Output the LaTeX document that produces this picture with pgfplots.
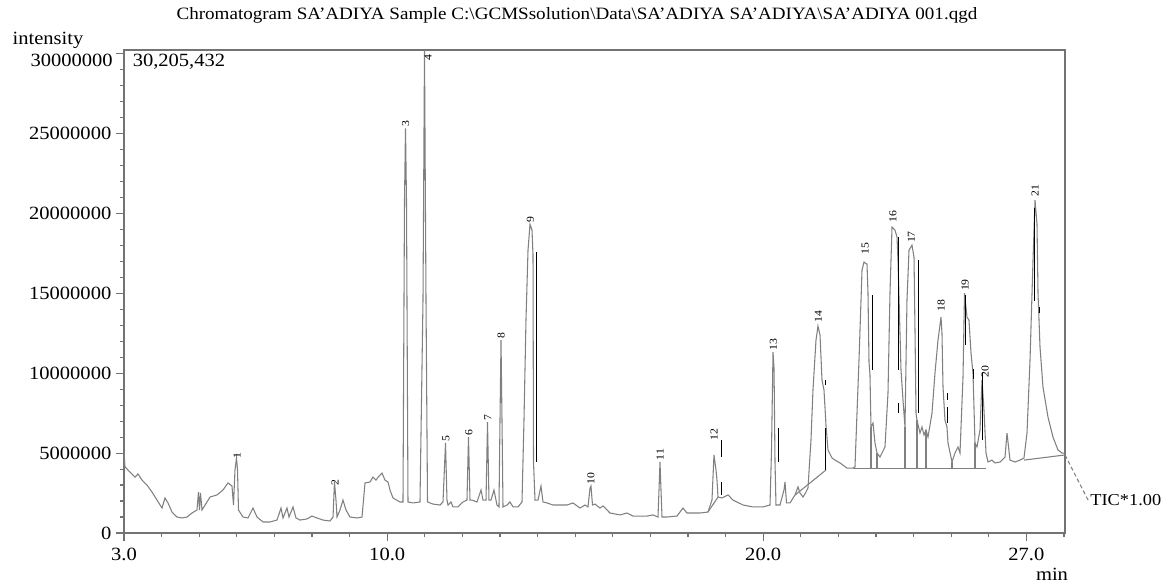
\documentclass[border=0pt]{standalone}
\usepackage{pgfplots}
\pgfplotsset{compat=1.18}
\usepackage{pgfplotstable}
\usepackage{fontspec}
\setmainfont[FakeStretch=1.1]{Liberation Serif}

\definecolor{trace}{gray}{0.50}
\definecolor{frame}{gray}{0.45}

% TIC trace: retention time (min), intensity (millions)
\pgfplotstableread{
t I
3.000 5.06
3.027 4.13
3.160 3.81
3.293 3.50
3.372 3.69
3.479 3.31
3.612 3.00
3.745 2.56
3.878 2.06
4.011 1.56
4.090 2.19
4.170 1.88
4.277 1.31
4.410 1.00
4.543 0.94
4.676 1.00
4.809 1.25
4.941 1.44
4.981 2.56
5.008 1.44
5.035 2.50
5.074 1.44
5.207 1.94
5.287 2.25
5.473 2.38
5.633 2.69
5.766 3.13
5.872 2.94
5.912 1.75
5.952 3.94
5.992 4.69
6.019 3.94
6.045 1.44
6.165 1.00
6.298 0.94
6.431 1.56
6.537 1.00
6.697 0.69
6.883 0.69
7.069 0.81
7.176 1.56
7.229 0.94
7.335 1.56
7.388 1.00
7.495 1.63
7.574 0.94
7.681 0.81
7.867 0.88
8.000 1.06
8.133 0.94
8.293 0.81
8.479 0.75
8.559 1.00
8.598 3.19
8.638 2.06
8.665 1.00
8.745 1.44
8.824 2.06
8.904 1.44
9.011 1.00
9.197 0.94
9.330 1.00
9.410 3.13
9.543 3.19
9.622 3.50
9.702 3.31
9.782 3.56
9.862 3.75
9.941 3.31
10.021 3.19
10.074 2.69
10.154 2.19
10.340 1.94
10.420 1.94
10.460 20.81
10.487 25.31
10.513 20.81
10.553 1.94
10.686 1.88
10.872 1.94
10.952 14.56
10.992 30.205
11.032 14.56
11.072 1.94
11.218 1.81
11.404 1.75
11.484 1.94
11.551 5.63
11.590 2.06
11.617 1.75
11.697 1.94
11.750 1.63
11.883 1.63
12.016 1.94
12.122 2.06
12.162 6.00
12.202 2.06
12.255 2.06
12.388 1.94
12.495 2.69
12.548 2.06
12.628 2.06
12.668 6.94
12.707 2.06
12.761 2.06
12.840 2.69
12.920 1.75
12.973 1.63
13.000 7.06
13.027 12.06
13.053 7.06
13.080 1.63
13.186 1.75
13.266 1.94
13.346 1.63
13.479 1.63
13.585 1.94
13.638 7.06
13.691 13.31
13.745 17.69
13.798 19.31
13.851 18.94
13.878 17.38
13.891 4.44
13.931 2.06
14.011 2.06
14.090 2.94
14.144 1.94
14.250 1.88
14.410 1.75
14.596 1.75
14.782 1.75
14.941 1.88
15.128 1.56
15.261 1.75
15.340 1.63
15.394 2.81
15.420 2.94
15.460 1.75
15.527 1.81
15.660 1.56
15.739 1.69
15.926 1.25
16.191 1.13
16.378 1.25
16.537 1.06
16.723 1.06
16.910 1.06
17.069 1.13
17.202 1.00
17.229 2.69
17.255 4.44
17.282 2.69
17.309 1.00
17.441 1.00
17.707 1.06
17.867 1.56
17.973 1.25
18.319 1.25
18.532 1.31
18.638 2.06
18.691 4.88
18.745 3.94
18.771 3.31
18.798 2.25
18.904 2.19
19.064 2.38
19.197 2.06
19.463 1.75
19.729 1.63
19.995 1.63
20.181 1.75
20.221 5.19
20.261 11.31
20.288 10.30
20.314 4.44
20.340 1.75
20.447 1.75
20.553 2.69
20.580 3.19
20.620 1.88
20.713 1.88
20.846 2.38
20.926 2.88
20.979 2.50
21.059 2.25
21.138 2.56
21.191 2.81
21.271 5.81
21.324 8.94
21.404 12.06
21.457 12.94
21.511 12.38
21.564 9.56
21.617 8.94
21.670 6.75
21.723 5.19
21.830 4.69
21.910 4.56
22.043 4.38
22.229 4.06
22.388 4.06
22.441 4.13
22.548 10.81
22.628 16.44
22.681 16.94
22.761 16.81
22.787 15.00
22.814 10.69
22.840 9.88
22.867 6.63
22.920 6.88
22.973 5.63
23.027 5.00
23.106 4.75
23.239 5.38
23.319 8.75
23.372 15.00
23.426 19.13
23.505 18.94
23.559 18.50
23.585 17.06
23.665 10.19
23.718 8.31
23.771 6.63
23.824 14.56
23.878 17.69
23.957 18.00
24.011 17.25
24.037 12.69
24.064 7.50
24.090 7.06
24.170 6.25
24.223 6.63
24.277 6.13
24.330 6.44
24.383 6.00
24.489 7.50
24.569 10.00
24.649 12.06
24.729 13.50
24.755 12.50
24.782 9.13
24.835 7.06
24.888 6.63
24.915 5.63
25.021 4.44
25.101 5.00
25.181 5.38
25.234 5.00
25.314 9.75
25.354 15.00
25.420 13.50
25.473 13.31
25.527 11.25
25.580 10.00
25.633 5.63
25.686 5.38
25.766 6.44
25.819 9.56
25.872 7.69
25.926 5.00
25.979 4.44
26.085 4.56
26.165 4.38
26.298 4.44
26.431 4.75
26.484 6.25
26.564 4.56
26.697 4.44
26.830 4.56
26.936 4.69
27.016 6.25
27.096 10.81
27.176 17.06
27.229 20.81
27.282 19.31
27.309 15.00
27.362 11.63
27.441 9.13
27.574 7.25
27.707 6.00
27.840 5.19
27.947 5.00
28.027 5.00
}\tic

\pgfplotsset{
  seg/.style={black, line width=0.75pt},
  base/.style={trace, line width=0.8pt},
}

\begin{document}
\begin{tikzpicture}[
  pk/.style={rotate=90, anchor=west, inner sep=0.3pt, font=\fontsize{8}{9}\selectfont},
  lbl/.style={font=\fontsize{14}{16}\selectfont},
]
\useasboundingbox (-93pt,-36.75pt) rectangle (778.5pt,399.75pt);
\begin{axis}[
  at={(0,0)}, anchor=south west,
  width=705.75pt, height=362.25pt, scale only axis,
  xmin=3, xmax=28.027, ymin=0, ymax=30.205432,
  clip=false,
  axis line style={frame, line width=0.9pt},
  tick style={frame, line width=0.8pt},
  tick align=outside,
  xtick pos=bottom, ytick pos=left,
  major tick length=6pt, minor tick length=3pt,
  xtick={3,10,20,27}, xticklabels={3.0,10.0,20.0,27.0},
  minor xtick={3,...,28},
  ytick={0,5,...,30},
  yticklabels={0,5000000,10000000,15000000,20000000,25000000,},
  minor ytick={0,...,30},
  ticklabel style={font=\fontsize{14}{16}\selectfont},
  xticklabel style={yshift=-2pt},
  title={Chromatogram SA’ADIYA Sample C:\textbackslash GCMSsolution\textbackslash Data\textbackslash SA’ADIYA SA’ADIYA\textbackslash SA’ADIYA 001.qgd},
  title style={at={(0.4814,1.0559)}, anchor=center, font=\fontsize{13}{15}\selectfont},
]
\addplot[trace, line width=0.8pt] table[x=t, y=I] {\tic};

% integration baselines
\addplot[base] coordinates {(18.53,1.31) (18.80,2.25)};
\addplot[base] coordinates {(20.85,2.38) (21.67,3.94)};
\addplot[base] coordinates {(22.388,4.06) (25.926,4.06)};
\addplot[base] coordinates {(22.867,4.06) (22.867,6.63)};
\addplot[base] coordinates {(23.027,4.06) (23.027,5.00)};
\addplot[base] coordinates {(23.771,4.06) (23.771,6.63)};
\addplot[base] coordinates {(24.090,4.06) (24.090,7.06)};
\addplot[base] coordinates {(24.330,4.06) (24.330,6.44)};
\addplot[base] coordinates {(25.021,4.06) (25.021,4.44)};
\addplot[base] coordinates {(25.633,4.06) (25.633,5.63)};
\addplot[base] coordinates {(26.936,4.56) (28.027,4.88)};

% peak markers
\addplot[seg] coordinates {(13.98,17.56) (13.98,4.44)};
\addplot[seg] coordinates {(18.88,5.81) (18.88,4.75)};
\addplot[seg] coordinates {(18.88,3.19) (18.88,2.38)};
\addplot[seg] coordinates {(20.42,6.56) (20.42,4.44)};
\addplot[seg] coordinates {(21.67,9.56) (21.67,9.25)};
\addplot[seg] coordinates {(21.67,6.56) (21.67,3.94)};
\addplot[seg] coordinates {(22.92,14.88) (22.92,10.19)};
\addplot[seg] coordinates {(23.61,18.50) (23.61,10.19)};
\addplot[seg] coordinates {(23.61,8.13) (23.61,7.50)};
\addplot[seg] coordinates {(24.12,17.06) (24.12,7.50)};
\addplot[seg] coordinates {(24.89,8.75) (24.89,8.31)};
\addplot[seg] coordinates {(24.89,7.88) (24.89,6.88)};
\addplot[seg] coordinates {(25.39,14.88) (25.39,11.75)};
\addplot[seg] coordinates {(25.58,10.25) (25.58,9.63)};
\addplot[seg] coordinates {(25.82,10.00) (25.82,5.81)};
\addplot[seg] coordinates {(27.22,20.30) (27.22,14.50)};
\addplot[seg] coordinates {(27.36,14.13) (27.36,13.75)};

% peak numbers
\node[pk] at (axis cs:6.005,4.60) {1};
\node[pk] at (axis cs:8.612,2.95) {2};
\node[pk] at (axis cs:10.49,25.40) {3};
\node[pk] at (axis cs:11.085,29.50) {4};
\node[pk] at (axis cs:11.564,5.70) {5};
\node[pk] at (axis cs:12.176,6.05) {6};
\node[pk] at (axis cs:12.681,7.00) {7};
\node[pk] at (axis cs:13.027,12.10) {8};
\node[pk] at (axis cs:13.810,19.40) {9};
\node[pk] at (axis cs:15.420,3.00) {10};
\node[pk] at (axis cs:17.255,4.50) {11};
\node[pk] at (axis cs:18.691,5.75) {12};
\node[pk] at (axis cs:20.270,11.40) {13};
\node[pk] at (axis cs:21.470,13.10) {14};
\node[pk] at (axis cs:22.710,17.40) {15};
\node[pk] at (axis cs:23.452,19.40) {16};
\node[pk] at (axis cs:23.940,18.10) {17};
\node[pk] at (axis cs:24.729,13.80) {18};
\node[pk] at (axis cs:25.370,15.10) {19};
\node[pk] at (axis cs:25.900,9.70) {20};
\node[pk] at (axis cs:27.229,21.00) {21};

% text around the frame
\node[lbl, anchor=east, inner sep=0pt] at (rel axis cs:-0.0117,0.978) {30000000};
\node[lbl, anchor=west] at (rel axis cs:-0.1233,1.0207) {intensity};
\node[lbl, anchor=west] at (rel axis cs:0.0043,0.9752) {30,205,432};
\node[lbl] at (rel axis cs:0.9862,-0.0849) {min};
\draw[trace, densely dashed, line width=0.8pt] (axis cs:28.027,4.88) -- (axis cs:28.64,2.06);
\node[anchor=west, inner sep=1pt, font=\fontsize{12.5}{14}\selectfont] at (axis cs:28.66,2.06) {TIC*1.00};
\end{axis}
\end{tikzpicture}
\end{document}
